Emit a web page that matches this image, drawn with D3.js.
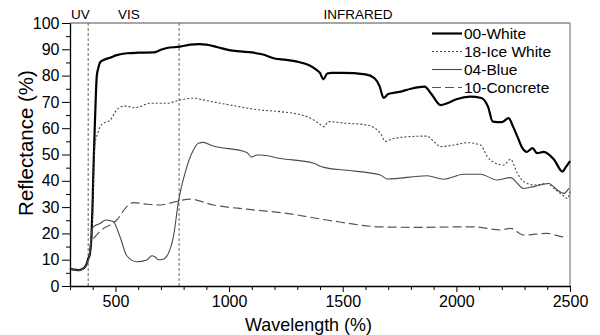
<!DOCTYPE html>
<html><head><meta charset="utf-8">
<script src="https://cdn.jsdelivr.net/npm/d3@7"></script>
<style>
html,body{margin:0;padding:0;background:#fff;}
text{font-family:"Liberation Sans",Arial,sans-serif;}
</style></head>
<body><svg id="c" width="600" height="335"></svg>
<script>
// ---------- data ----------
const seriesNames = ["00-White","18-Ice White","04-Blue","10-Concrete"];

const whiteWl = [300,310,320,340,355,366,375,381,388,395,400,403,410,418,425,432,450,476,506,550,600,667,700,726,784,828,870,900,950,1000,1050,1100,1150,1200,1250,1300,1350,1380,1400,1415,1432,1450,1500,1600,1640,1662,1680,1700,1750,1800,1860,1890,1930,1960,2000,2060,2110,2140,2160,2200,2230,2250,2270,2290,2310,2335,2355,2385,2430,2467,2480,2500];
const whiteR  = [6.7,6.3,6.2,6,6.5,7.3,8.8,10.5,12.5,20,33,44,63,80,83,85,86,86.8,87.8,88.5,88.7,88.8,89.8,90.5,91,91.8,92,91.8,90.8,89.7,89.2,88.8,88,86.5,86,85.3,84,82.5,81,78.6,80.8,81,81,80.5,79,76,71.5,73,73.8,75,75.8,73,68.8,69.5,71,72,71.5,68,62.5,62.3,63.8,60.5,56.5,52.5,51,52.4,50.5,51,48,43.5,45,47.5];

const iceWl = [300,340,366,381,388,395,400,405,410,420,432,450,476,506,530,550,580,608,652,726,784,843,900,1005,1137,1225,1343,1394,1416,1438,1500,1607,1666,1688,1720,1753,1871,1900,1930,1989,2048,2106,2136,2172,2209,2238,2268,2297,2341,2400,2430,2467,2488,2500];
const iceR  = [6.5,6,7,10,12,18,28,45,54,57.5,60.5,62,63,67,68.3,68.4,67.8,68.2,69.5,69.5,70.7,71.4,70.5,68.8,66.9,66.3,64.4,61.9,60.6,62.5,62,61.2,58,55,56,56.5,57,55,53,53.6,54.5,53.6,49.2,46.7,46,48.2,42.9,39.7,38.4,39,37.1,34.6,33.3,35.9];

const blueWl = [300,340,366,381,388,395,403,432,458,491,520,550,594,638,660,675,689,710,733,755,777,806,843,865,887,924,1078,1100,1122,1137,1225,1372,1401,1416,1519,1666,1695,1871,1944,2032,2106,2179,2238,2297,2341,2407,2444,2473,2495];
const blueR  = [6.5,6,7.2,10,14,20.5,22.5,23.8,25.1,24.4,18.7,11.5,9.2,9.9,11.5,11,10,10.2,12.4,18.7,32,42.9,51.7,54.3,54.6,53.4,50.8,49,49.8,49.8,48.5,46.7,45.5,45.1,44,42.2,40.7,41.9,40.6,42.5,42.5,40.3,41.2,37.1,37.8,39,36.5,35.2,37.1];

const concWl = [403,447,476,506,550,579,638,696,740,784,828,931,1078,1254,1430,1666,1812,2076,2194,2238,2297,2400,2473,2488];
const concR  = [18,21.9,23.2,25.1,30.2,31.7,31.1,30.8,31.5,32.5,33,30.8,29.2,27.6,25.1,22.5,22.3,22.5,21.3,21.9,19.4,20,18.7,19];

const xMajorTicks = [500,1000,1500,2000,2500];
const yMajorTicks = [0,10,20,30,40,50,60,70,80,90,100];
const regionLabels = ["UV","VIS","INFRARED"];
const regionBounds = [380,780];

// ---------- drawing ----------
const svg = d3.select("#c");
const L=70,R=570,T=23,B=286;
const x = d3.scaleLinear().domain([300,2500]).range([L,R]);
const y = d3.scaleLinear().domain([0,100]).range([B,T]);

const series = [
  {wl:whiteWl, r:whiteR, stroke:"#000", w:2.2, dash:null},
  {wl:iceWl,   r:iceR,   stroke:"#444", w:1.1, dash:"2,2"},
  {wl:blueWl,  r:blueR,  stroke:"#4a4a4a", w:1.1, dash:null},
  {wl:concWl,  r:concR,  stroke:"#555", w:1.2, dash:"9,4"}
];

// frame (top & right)
svg.append("line").attr("x1",L).attr("x2",R).attr("y1",T).attr("y2",T).attr("stroke","#888").attr("stroke-width",1.3);
svg.append("line").attr("x1",R).attr("x2",R).attr("y1",T).attr("y2",B).attr("stroke","#888").attr("stroke-width",1.3);

// region boundaries
regionBounds.forEach(v=>{
  svg.append("line").attr("x1",x(v)).attr("x2",x(v)).attr("y1",T).attr("y2",B)
    .attr("stroke","#666").attr("stroke-width",1).attr("stroke-dasharray","3,2");
});

// series lines
const line = d3.line().x(d=>x(d[0])).y(d=>y(d[1])).curve(d3.curveMonotoneX);
series.forEach(s=>{
  const pts = s.wl.map((w,i)=>[w,s.r[i]]);
  const p = svg.append("path").datum(pts).attr("d",line).attr("fill","none")
    .attr("stroke",s.stroke).attr("stroke-width",s.w).attr("stroke-linejoin","round");
  if(s.dash) p.attr("stroke-dasharray",s.dash);
});

// axes
const xMinor = d3.range(300,2501,100).filter(v=>!xMajorTicks.includes(v));
svg.append("g").attr("transform",`translate(0,${B})`)
  .call(d3.axisBottom(x).tickValues(xMinor).tickSize(4).tickFormat(""))
  .call(g=>g.select(".domain").remove());
const gx = svg.append("g").attr("transform",`translate(0,${B})`)
  .call(d3.axisBottom(x).tickValues(xMajorTicks).tickSize(6).tickSizeOuter(0).tickPadding(4).tickFormat(d3.format("d")));
gx.selectAll("text").attr("font-size",16).attr("fill","#000").style("font-family","Liberation Sans, Arial");
gx.select(".domain").attr("stroke","#000").attr("stroke-width",1.3);

const yMinor = d3.range(5,100,10);
svg.append("g").attr("transform",`translate(${L},0)`)
  .call(d3.axisLeft(y).tickValues(yMinor).tickSize(4).tickFormat(""))
  .call(g=>g.select(".domain").remove());
const gy = svg.append("g").attr("transform",`translate(${L},0)`)
  .call(d3.axisLeft(y).tickValues(yMajorTicks).tickSize(8).tickSizeOuter(0).tickPadding(2.5).tickFormat(d3.format("d")));
gy.selectAll("text").attr("font-size",16).attr("fill","#000").style("font-family","Liberation Sans, Arial");
gy.select(".domain").attr("stroke","#000").attr("stroke-width",1.3);

// axis titles
svg.append("text").attr("x",308.5).attr("y",331).attr("text-anchor","middle")
  .attr("font-size",19).attr("textLength",127).attr("lengthAdjust","spacingAndGlyphs").text("Wavelength (%)");
svg.append("text").attr("transform","translate(33,143) rotate(-90)").attr("text-anchor","middle")
  .attr("font-size",20.5).text("Reflectance (%)");

// region labels
const regionX = [71, 118, 358];
const regionAnchor = ["start","start","middle"];
regionLabels.forEach((t,i)=>{
  svg.append("text").attr("x",regionX[i]).attr("y",19).attr("text-anchor",regionAnchor[i])
    .attr("font-size",13.5).text(t);
});

// legend
const legY = [33.5,51.5,69.5,87.5];
series.forEach((s,i)=>{
  const l = svg.append("line").attr("x1",432).attr("x2",462).attr("y1",legY[i]).attr("y2",legY[i])
    .attr("stroke",s.stroke).attr("stroke-width",s.w);
  if(s.dash) l.attr("stroke-dasharray",s.dash);
  svg.append("text").attr("x",464).attr("y",legY[i]+5.5).attr("font-size",15.5).text(seriesNames[i]);
});
</script></body></html>
